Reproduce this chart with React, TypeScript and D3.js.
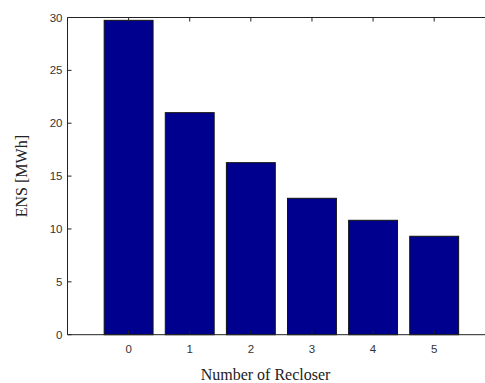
import React from 'react';
import * as d3 from 'd3';

const categories = [0, 1, 2, 3, 4, 5];
const ensValues = [29.73, 21.0, 16.27, 12.9, 10.82, 9.31];
const yTicks = [0, 5, 10, 15, 20, 25, 30];

const W = 485;
const H = 383;
const left = 67.5;
const top = 17.5;
const bottom = 334.7;
const right = 495.3; // axes box runs a little past the picture edge

const App: React.FC = () => {
  const x = d3.scaleLinear().domain([-1, 6]).range([left, right]);
  const y = d3.scaleLinear().domain([0, 30]).range([bottom, top]);
  const barW = x(0.8) - x(0);

  return (
    <svg
      width={W}
      height={H}
      style={{ position: 'absolute', left: 0, top: 0, background: '#fff' }}
    >
      {/* bars */}
      {categories.map((c, i) => (
        <rect
          key={c}
          x={x(c) - barW / 2}
          y={y(ensValues[i])}
          width={barW}
          height={y(0) - y(ensValues[i])}
          fill="#00008f"
          stroke="#111"
          strokeWidth={1}
        />
      ))}

      {/* axes frame */}
      <line x1={left} x2={right} y1={bottom} y2={bottom} stroke="#222" strokeWidth={1} />
      <line x1={left} x2={right} y1={top} y2={top} stroke="#222" strokeWidth={1} />
      <line x1={left} x2={left} y1={top} y2={bottom} stroke="#222" strokeWidth={1} />

      {/* y ticks */}
      {yTicks.map((t) => (
        <g key={t}>
          <line x1={left} x2={left + 4} y1={y(t)} y2={y(t)} stroke="#222" />
          <text
            x={left - 5}
            y={y(t)}
            textAnchor="end"
            dominantBaseline="central"
            fontFamily="Arial, 'Liberation Sans', sans-serif"
            fontSize={11.5}
            fill="#333"
          >
            {t}
          </text>
        </g>
      ))}

      {/* x ticks */}
      {categories.map((c) => (
        <g key={c}>
          <line x1={x(c)} x2={x(c)} y1={top} y2={top + 4} stroke="#222" />
          <line x1={x(c)} x2={x(c)} y1={bottom} y2={bottom - 4} stroke="#222" />
          <text
            x={x(c)}
            y={353}
            textAnchor="middle"
            fontFamily="Arial, 'Liberation Sans', sans-serif"
            fontSize={11.5}
            fill="#333"
          >
            {c}
          </text>
        </g>
      ))}

      {/* labels */}
      <text
        x={265.5}
        y={380}
        textAnchor="middle"
        fontFamily="'Times New Roman', 'Liberation Serif', serif"
        fontSize={16}
        fill="#222"
      >
        Number of Recloser
      </text>
      <text
        transform={`translate(27, ${(top + bottom) / 2}) rotate(-90)`}
        textAnchor="middle"
        fontFamily="'Times New Roman', 'Liberation Serif', serif"
        fontSize={16}
        fill="#222"
      >
        ENS [MWh]
      </text>
    </svg>
  );
};

export default App;
